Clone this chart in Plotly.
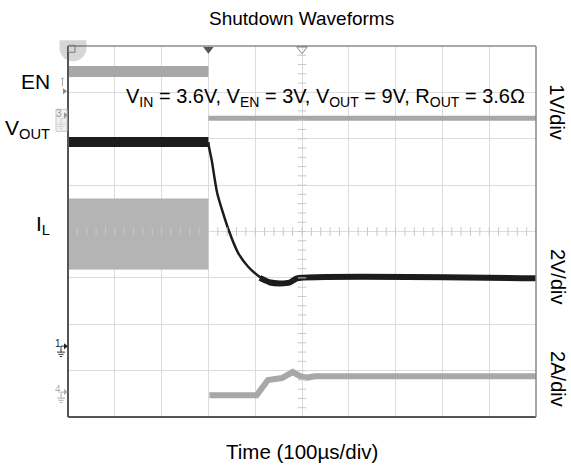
import math
import plotly.graph_objects as go

# ---- data (time in screen divisions, 100 us/div; amplitude in screen divisions) ----
en_high_t = [0.0, 3.0]
en_high_v = [7.45, 7.45]
en_low_t = [3.0, 10.0]
en_low_v = [6.44, 6.44]

vout_on_t = [0.0, 3.0]
vout_on_v = [5.93, 5.93]
vout_decay_t = [3.0, 3.006, 3.07, 3.19, 3.44, 3.64, 3.85, 4.10, 4.32]
vout_decay_v = [5.93, 5.86, 5.54, 4.82, 4.01, 3.53, 3.24, 3.02, 2.91]
vout_tail_t = [4.10, 4.32, 4.53, 4.74, 4.89, 10.0]
vout_tail_v = [3.00, 2.90, 2.88, 2.90, 2.99, 2.99]

il_on_t = [0.0, 3.0]
il_on_upper = [4.70, 4.70]
il_on_lower = [3.19, 3.19]
il_off_t = [3.02, 4.03, 4.27, 4.42, 4.57, 4.80, 4.96, 5.11, 5.28, 10.0]
il_off_v = [0.47, 0.47, 0.795, 0.83, 0.84, 0.97, 0.88, 0.85, 0.88, 0.88]

trigger_t = [3.0]
center_t = [5.0]

title_text = "Shutdown Waveforms"
xlabel_text = "Time (100\u00b5s/div)"
scale_labels = ["1V/div", "2V/div", "2A/div"]

# ---- geometry (window pixels) ----
W, H = 571, 471
L, R, T, B = 68, 536, 45.7, 416.9


def px(x):
    return (x - L) / (R - L)


def py(y):
    return (B - y) / (B - T)


FONT = "Liberation Sans, Arial, sans-serif"
GRAY = "#a8a8a8"
DARK = "#1c1c1c"

fig = go.Figure()

# IL switching band (envelope)
fig.add_trace(go.Scatter(x=il_on_t, y=il_on_lower, mode="lines",
                         line=dict(width=0, color="#b4b4b4"), showlegend=False, hoverinfo="skip"))
fig.add_trace(go.Scatter(x=il_on_t, y=il_on_upper, mode="lines", fill="tonexty",
                         fillcolor="#b4b4b4", line=dict(width=1, color="#b0b0b0"),
                         showlegend=False, hoverinfo="skip"))
fig.add_trace(go.Scatter(x=il_on_t, y=il_on_lower, mode="lines",
                         line=dict(width=1, color="#b0b0b0"), showlegend=False, hoverinfo="skip"))
# IL after shutdown
fig.add_trace(go.Scatter(x=il_off_t, y=il_off_v, mode="lines",
                         line=dict(width=6, color=GRAY), showlegend=False))
# EN
fig.add_trace(go.Scatter(x=en_high_t, y=en_high_v, mode="lines",
                         line=dict(width=11, color=GRAY), showlegend=False))
fig.add_trace(go.Scatter(x=en_low_t, y=en_low_v, mode="lines",
                         line=dict(width=5, color=GRAY), showlegend=False))
# VOUT
fig.add_trace(go.Scatter(x=vout_on_t, y=vout_on_v, mode="lines",
                         line=dict(width=10, color=DARK), showlegend=False))
fig.add_trace(go.Scatter(x=vout_decay_t, y=vout_decay_v, mode="lines",
                         line=dict(width=2.5, color=DARK, shape="spline", smoothing=0.6),
                         showlegend=False))
fig.add_trace(go.Scatter(x=vout_tail_t, y=vout_tail_v, mode="lines",
                         line=dict(width=6, color=DARK, shape="spline", smoothing=0.5),
                         showlegend=False))

# center-line minor ticks
tick_x = [i * 0.2 for i in range(51)]
tick_y = [i * 0.2 for i in range(41)]
fig.add_trace(go.Scatter(x=tick_x, y=[4.0] * len(tick_x), mode="markers",
                         marker=dict(symbol="line-ns", size=6, line=dict(width=1, color="#c8c8c8")),
                         showlegend=False, hoverinfo="skip"))
fig.add_trace(go.Scatter(x=[5.0] * len(tick_y), y=tick_y, mode="markers",
                         marker=dict(symbol="line-ew", size=6, line=dict(width=1, color="#c8c8c8")),
                         showlegend=False, hoverinfo="skip"))

# trigger markers at the top
fig.add_trace(go.Scatter(x=trigger_t, y=[7.93], mode="markers", cliponaxis=False,
                         marker=dict(symbol="triangle-down", size=9, color="#555555"),
                         showlegend=False, hoverinfo="skip"))
fig.add_trace(go.Scatter(x=center_t, y=[7.93], mode="markers", cliponaxis=False,
                         marker=dict(symbol="triangle-down-open", size=9,
                                     line=dict(width=1, color="#8a8a8a"), color="#8a8a8a"),
                         showlegend=False, hoverinfo="skip"))

shapes = []
# border lines
shapes.append(dict(type="line", xref="paper", yref="paper", x0=0, x1=0, y0=0, y1=1,
                   line=dict(color="#555555", width=2)))
shapes.append(dict(type="line", xref="paper", yref="paper", x0=0, x1=1, y0=0, y1=0,
                   line=dict(color="#555555", width=2)))
shapes.append(dict(type="line", xref="paper", yref="paper", x0=0, x1=1, y0=1, y1=1,
                   line=dict(color="#555555", width=1.2)))
shapes.append(dict(type="line", xref="paper", yref="paper", x0=1, x1=1, y0=0, y1=1,
                   line=dict(color="#888888", width=1.5)))

# menu circle at top-left (segment)
cx, cy, r = 73, 47.5, 13.5
pts = []
for k in range(0, 181, 10):
    a = math.radians(k)
    pts.append((cx - r * math.cos(a), cy + r * math.sin(a)))
pts = [(x, max(y, 40)) for x, y in pts]
path = "M " + " L ".join(f"{px(x):.4f},{py(y):.4f}" for x, y in pts)
path += f" L {px(cx + r):.4f},{py(40):.4f} L {px(cx - r):.4f},{py(40):.4f} Z"
shapes.append(dict(type="path", xref="paper", yref="paper", path=path,
                   fillcolor="#d6d6d6", line=dict(width=0), layer="below"))
shapes.append(dict(type="rect", xref="paper", yref="paper", x0=px(68.5), x1=px(75), y0=py(52), y1=py(45),
                   line=dict(color="#777777", width=1), fillcolor="rgba(0,0,0,0)"))


# ground markers on left
def ground(xc, ytop, color):
    out = []
    for i, w in enumerate([4, 2.6, 1.2]):
        yy = ytop + i * 2.2
        out.append(dict(type="line", xref="paper", yref="paper", x0=px(xc - w), x1=px(xc + w),
                        y0=py(yy), y1=py(yy), line=dict(color=color, width=1)))
    out.append(dict(type="line", xref="paper", yref="paper", x0=px(xc), x1=px(xc),
                    y0=py(ytop - 6), y1=py(ytop), line=dict(color=color, width=1)))
    out.append(dict(type="line", xref="paper", yref="paper", x0=px(xc), x1=px(xc + 5),
                    y0=py(ytop - 6), y1=py(ytop - 6), line=dict(color=color, width=1)))
    return out


shapes += ground(61, 352, "#333333")
shapes += ground(61, 398, "#b0b0b0")
shapes += ground(61, 124, "#aaaaaa")
shapes.append(dict(type="rect", xref="paper", yref="paper", x0=px(56), x1=px(67), y0=py(131), y1=py(109),
                   line=dict(color="#c8c8c8", width=1), fillcolor="rgba(230,230,230,0.6)"))
# small "T" level marker near EN
shapes.append(dict(type="line", xref="paper", yref="paper", x0=px(61), x1=px(64), y0=py(78), y1=py(78),
                   line=dict(color="#aaaaaa", width=1)))
shapes.append(dict(type="line", xref="paper", yref="paper", x0=px(62.5), x1=px(62.5), y0=py(78), y1=py(86),
                   line=dict(color="#aaaaaa", width=1)))
shapes.append(dict(type="path", xref="paper", yref="paper",
                   path=f"M {px(63):.4f},{py(88):.4f} L {px(67):.4f},{py(91):.4f} L {px(63):.4f},{py(94):.4f} Z",
                   fillcolor="#888888", line=dict(width=0)))
for yy, col in [(346, "#222222"), (392, "#b0b0b0"), (115, "#999999")]:
    shapes.append(dict(type="path", xref="paper", yref="paper",
                       path=f"M {px(64):.4f},{py(yy - 3):.4f} L {px(68):.4f},{py(yy):.4f} L {px(64):.4f},{py(yy + 3):.4f} Z",
                       fillcolor=col, line=dict(width=0)))

annotations = []


def ann(text, x, y, size=21, xanchor="center", yanchor="middle", color="#000000", angle=0):
    annotations.append(dict(text=text, xref="paper", yref="paper", x=x, y=y, showarrow=False,
                            xanchor=xanchor, yanchor=yanchor, textangle=angle,
                            font=dict(family=FONT, size=size, color=color)))


ann(title_text, px(301), py(18), size=19)
ann(xlabel_text, px(301.5), py(451), size=20.5)
ann("EN", px(52), py(81.5), xanchor="right")
ann("V<sub>OUT</sub>", px(52), py(129), xanchor="right")
ann("I<sub>L</sub>", px(52), py(225), xanchor="right")
ann("V<sub>IN</sub> = 3.6V, V<sub>EN</sub> = 3V, V<sub>OUT</sub> = 9V, R<sub>OUT</sub> = 3.6\u03a9",
    px(527), py(97), size=20, xanchor="right")
ann(scale_labels[0], px(557.5), py(111.5), size=20, angle=90)
ann(scale_labels[1], px(558), py(276.7), size=20, angle=90)
ann(scale_labels[2], px(558), py(379), size=20, angle=90)
ann("1", px(58), py(343), size=10, color="#222222")
ann("4", px(58), py(389), size=10, color="#b0b0b0")
ann("3", px(59), py(113), size=10, color="#999999")

fig.update_layout(
    width=W, height=H,
    margin=dict(l=L, r=W - R, t=T, b=H - B, pad=0),
    paper_bgcolor="white", plot_bgcolor="white",
    showlegend=False,
    xaxis=dict(range=[0, 10], dtick=1, tick0=0, showgrid=True, gridcolor="#dcdcdc", gridwidth=1,
               zeroline=False, showticklabels=False, ticks="", showline=False, fixedrange=True),
    yaxis=dict(range=[0, 8], dtick=1, tick0=0, showgrid=True, gridcolor="#dcdcdc", gridwidth=1,
               zeroline=False, showticklabels=False, ticks="", showline=False, fixedrange=True),
    shapes=shapes,
    annotations=annotations,
)

fig.write_html("out.html",
               config={"displayModeBar": False, "staticPlot": True},
               post_script="document.body.style.margin='0';document.body.style.padding='0';"
                           "document.body.style.overflow='hidden';")
